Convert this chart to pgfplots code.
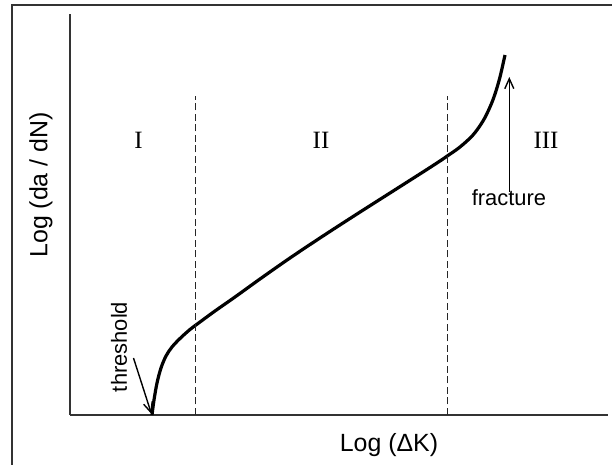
\documentclass[border=0pt]{standalone}
\usepackage{fontspec}
\setmainfont{Liberation Sans}
\newfontfamily\serif{Liberation Serif}
\usepackage{pgfplots}
\pgfplotsset{compat=1.18}
\usetikzlibrary{arrows.meta}

\begin{document}
\begin{tikzpicture}
\begin{axis}[
    x=1bp, y=1bp,
    xmin=70, xmax=608, ymin=0, ymax=401,
    axis x line=bottom, axis y line=left,
    axis line style={-, line width=1.8bp, black!80},
    xtick=\empty, ytick=\empty,
    clip=false,
]
% crack growth curve
\addplot[smooth, line width=3.2bp, black, tension=0.55] coordinates {
    (152,0) (154,15) (157,32) (161,47) (166,59) (172,68) (180,76.5)
    (190,85.5) (200,93) (215,104) (235,118) (260,136) (290,157) (323,179)
    (357,201) (390,222) (423,243) (440,254) (448,259.5) (460,268)
    (473,280) (483,294) (490,308) (495,321) (500,338) (505,360)
};
% region boundaries
\addplot[black!85, line width=1.4bp, dash pattern=on 7bp off 3.5bp] coordinates {(195.5,0) (195.5,319)};
\addplot[black!85, line width=1.4bp, dash pattern=on 7bp off 3.5bp] coordinates {(447.7,0) (447.7,319)};

\node[font=\serif\fontsize{25}{25}\selectfont] at (axis cs:138.6,275) {I};
\node[font=\serif\fontsize{25}{25}\selectfont] at (axis cs:321,275) {II};
\node[font=\serif\fontsize{25}{25}\selectfont] at (axis cs:546,275) {III};

\node[font=\fontsize{22}{22}\selectfont] at (axis cs:509,217) {fracture};
\draw[line width=1.4bp, -{Straight Barb[length=10bp, width=9bp]}] (axis cs:509.3,223) -- (axis cs:509.3,338);
\node[font=\fontsize{22}{22}\selectfont, rotate=90] at (axis cs:119,68) {threshold};
\draw[line width=1.4bp, -{Straight Barb[length=10bp, width=9bp]}] (axis cs:133.5,57) -- (axis cs:151.5,1);

\node[font=\fontsize{25}{25}\selectfont, rotate=90] at (axis cs:41,230) {Log (da / dN)};
\node[font=\fontsize{25}{25}\selectfont] at (axis cs:389,-30) {Log (ΔK)};

\coordinate (bl) at (axis cs:0,-50);
\coordinate (tr) at (axis cs:612,415);
\coordinate (fl) at (axis cs:11.7,-50);
\coordinate (ft) at (axis cs:11.7,410);
\coordinate (fr) at (axis cs:612,410);
\end{axis}
\draw[line width=1.8bp, black!80] (fl) -- (ft) -- (fr);
\pgfresetboundingbox
\useasboundingbox (bl) rectangle (tr);
\end{tikzpicture}
\end{document}
